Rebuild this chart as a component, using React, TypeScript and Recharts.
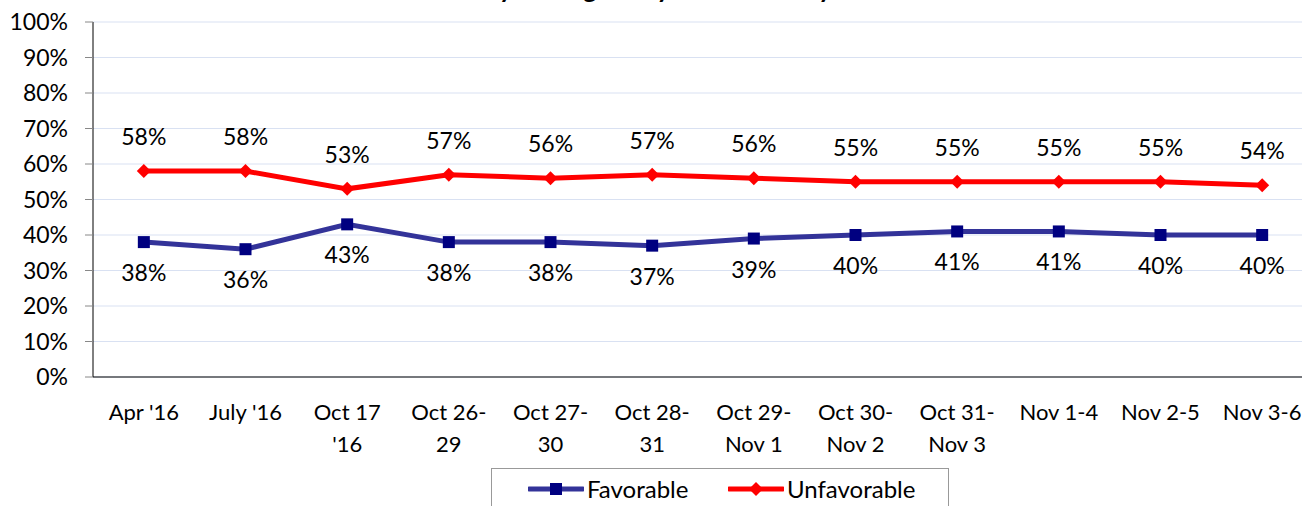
import { CartesianGrid, Line, LineChart, XAxis, YAxis } from "recharts"

const categories = [
  "Apr '16",
  "July '16",
  "Oct 17\n'16",
  "Oct 26-\n29",
  "Oct 27-\n30",
  "Oct 28-\n31",
  "Oct 29-\nNov 1",
  "Oct 30-\nNov 2",
  "Oct 31-\nNov 3",
  "Nov 1-4",
  "Nov 2-5",
  "Nov 3-6",
]
const favorable = [38, 36, 43, 38, 38, 37, 39, 40, 41, 41, 40, 40]
const unfavorable = [58, 58, 53, 57, 56, 57, 56, 55, 55, 55, 55, 54]
const yTicks = [0, 10, 20, 30, 40, 50, 60, 70, 80, 90, 100]
const bandEdges = [0, 1, 2, 3, 4, 5, 6, 7, 8, 9, 10, 11, 12]
const title = "Favorability among Likely Voters - Daily"

const FONT = "Lato, 'Open Sans', sans-serif"
const FS = 23
const FAV_LINE = "#333399"
const FAV_MARK = "#000080"
const UNFAV = "#ff0000"

const rows = categories.map((label, i) => ({
  pos: i + 0.5,
  label,
  favorable: favorable[i],
  unfavorable: unfavorable[i],
}))

function CategoryTick({ x, y, payload }: any) {
  const label = categories[Math.round(payload.value - 0.5)] ?? ""
  return (
    <text textAnchor="middle" fontSize={22} fill="#000" fontFamily={FONT}>
      {label.split("\n").map((line, i) => (
        <tspan key={i} x={x} y={y + 43 + i * 32}>
          {line}
        </tspan>
      ))}
    </text>
  )
}

function SquareDot({ cx, cy }: any) {
  if (cx == null || cy == null) return null
  return <rect x={cx - 6} y={cy - 6} width={12} height={12} fill={FAV_MARK} />
}

function DiamondDot({ cx, cy }: any) {
  if (cx == null || cy == null) return null
  return (
    <polygon
      points={`${cx},${cy - 7} ${cx + 7},${cy} ${cx},${cy + 7} ${cx - 7},${cy}`}
      fill={UNFAV}
    />
  )
}

function labelAt(dy: number) {
  return ({ x, y, value, index }: any) => (
    <text
      key={index}
      x={x}
      y={y + dy}
      textAnchor="middle"
      fontSize={FS}
      fill="#000"
      fontFamily={FONT}
    >
      {value}%
    </text>
  )
}

function LegendBox() {
  return (
    <div
      style={{
        position: "absolute",
        left: 491,
        top: 468,
        width: 456,
        height: 60,
        border: "1px solid #999",
        background: "#fff",
        fontFamily: FONT,
        fontSize: 24,
        lineHeight: "24px",
      }}
    >
      <div style={{ position: "absolute", left: 36, top: 8, display: "flex", alignItems: "center" }}>
        <svg width={56} height={24}>
          <line x1={1} y1={12} x2={55} y2={12} stroke={FAV_LINE} strokeWidth={5} strokeLinecap="round" />
          <rect x={22} y={6} width={12} height={12} fill={FAV_MARK} />
        </svg>
        <span style={{ marginLeft: 3 }}>Favorable</span>
      </div>
      <div style={{ position: "absolute", left: 236, top: 8, display: "flex", alignItems: "center" }}>
        <svg width={56} height={24}>
          <line x1={1} y1={12} x2={55} y2={12} stroke={UNFAV} strokeWidth={5} strokeLinecap="round" />
          <polygon points="28,5 35,12 28,19 21,12" fill={UNFAV} />
        </svg>
        <span style={{ marginLeft: 3 }}>Unfavorable</span>
      </div>
    </div>
  )
}

export default function App() {
  return (
    <div
      style={{
        position: "fixed",
        top: 0,
        left: 0,
        width: 1302,
        height: 506,
        overflow: "hidden",
        background: "#fff",
      }}
    >
      <div
        style={{
          position: "absolute",
          top: -27,
          left: -60,
          width: 1330,
          textAlign: "center",
          fontFamily: FONT,
          fontWeight: 700,
          fontSize: 26,
          lineHeight: "30px",
          whiteSpace: "nowrap",
        }}
      >
        {title}
      </div>
      <LineChart
        width={1330}
        height={520}
        data={rows}
        margin={{ top: 22, right: 17, bottom: 0, left: 0 }}
      >
        <CartesianGrid stroke="#d9e1f2" vertical={false} />
        <XAxis
          xAxisId="edges"
          type="number"
          domain={[0, 12]}
          ticks={bandEdges}
          tick={false}
          tickSize={7}
          tickLine={{ stroke: "#888" }}
          axisLine={false}
          height={0}
        />
        <XAxis
          dataKey="pos"
          type="number"
          domain={[0, 12]}
          ticks={rows.map((r) => r.pos)}
          interval={0}
          tick={<CategoryTick />}
          tickLine={false}
          tickSize={0}
          tickMargin={0}
          axisLine={{ stroke: "#000" }}
          height={143}
        />
        <YAxis
          domain={[0, 100]}
          ticks={yTicks}
          interval={0}
          width={93}
          tickSize={8}
          tickMargin={17}
          tickLine={{ stroke: "#888" }}
          axisLine={{ stroke: "#000" }}
          tickFormatter={(v) => `${v}%`}
          tick={{ fontSize: FS, fill: "#000", fontFamily: FONT }}
        />
        <Line
          type="linear"
          dataKey="favorable"
          stroke={FAV_LINE}
          strokeWidth={5}
          dot={<SquareDot />}
          activeDot={false}
          label={labelAt(39)}
          isAnimationActive={false}
        />
        <Line
          type="linear"
          dataKey="unfavorable"
          stroke={UNFAV}
          strokeWidth={5}
          dot={<DiamondDot />}
          activeDot={false}
          label={labelAt(-26)}
          isAnimationActive={false}
        />
      </LineChart>
      <LegendBox />
    </div>
  )
}
